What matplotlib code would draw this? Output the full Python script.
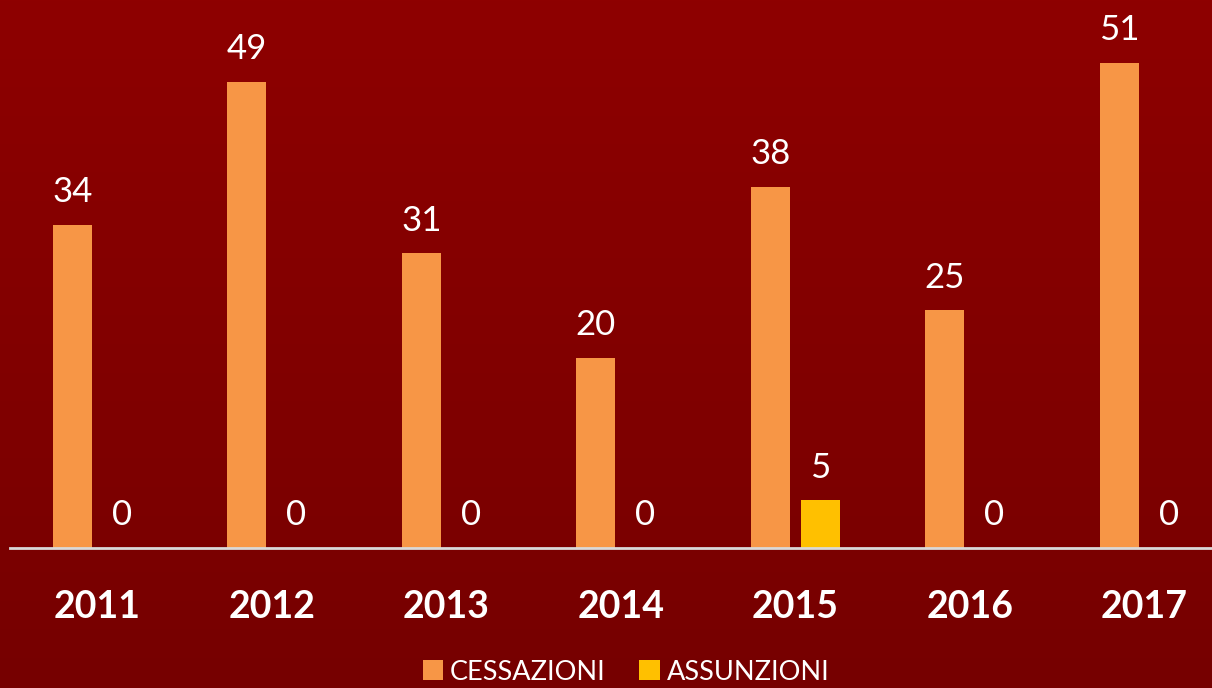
import numpy as np
import matplotlib
matplotlib.use("Agg")
import matplotlib.pyplot as plt
from matplotlib.colors import LinearSegmentedColormap

plt.rcParams['font.family'] = ['Lato', 'DejaVu Sans']

years = ['2011', '2012', '2013', '2014', '2015', '2016', '2017']
cessazioni = [34, 49, 31, 20, 38, 25, 51]
assunzioni = [0, 0, 0, 0, 5, 0, 0]

orange = '#F79646'
yellow = '#FFC000'

fig = plt.figure(figsize=(12.12, 6.88), dpi=100)

# background gradient, dark red to darker red
bg = fig.add_axes([0, 0, 1, 1])
grad = np.linspace(0, 1, 256).reshape(-1, 1)
cmap = LinearSegmentedColormap.from_list('bg', ['#8E0000', '#760000'])
bg.imshow(grad, aspect='auto', cmap=cmap, extent=[0, 1, 0, 1], origin='upper')
bg.axis('off')

ax = fig.add_axes([10 / 1212, 1 - 548 / 688, 1202 / 1212, 548 / 688])
ax.patch.set_alpha(0)
x = np.arange(len(years))
w = 0.2235
off = 0.142
b1 = ax.bar(x - off, cessazioni, w, color=orange, label='CESSAZIONI')
b2 = ax.bar(x + off, assunzioni, w, color=yellow, label='ASSUNZIONI')

for bars, vals in [(b1, cessazioni), (b2, assunzioni)]:
    for b, v in zip(bars, vals):
        ax.annotate(str(v), (b.get_x() + b.get_width() / 2, v),
                    xytext=(0, 12), textcoords='offset points',
                    ha='center', va='bottom', color='white', fontsize=25)

ax.set_xlim(-87.25 / 174.5, (1212 - 97.25) / 174.5)
ax.set_ylim(0, 548 / 9.51)
for s in ['top', 'right', 'left']:
    ax.spines[s].set_visible(False)
ax.spines['bottom'].set_color('#D9D9D9')
ax.spines['bottom'].set_linewidth(2)
ax.set_yticks([])
ax.set_xticks(x)
ax.set_xticklabels(years, color='white', fontsize=27, fontweight='bold')
ax.tick_params(axis='x', length=0, pad=30)

leg = fig.legend(handles=[b1, b2], loc='center', bbox_to_anchor=(0.5165, 0.023),
                 ncol=2, frameon=False, fontsize=19.5, handlelength=0.75,
                 handleheight=0.75, handletextpad=0.25, columnspacing=1.25)
for t in leg.get_texts():
    t.set_color('white')

fig.savefig('out.png', dpi=100)
